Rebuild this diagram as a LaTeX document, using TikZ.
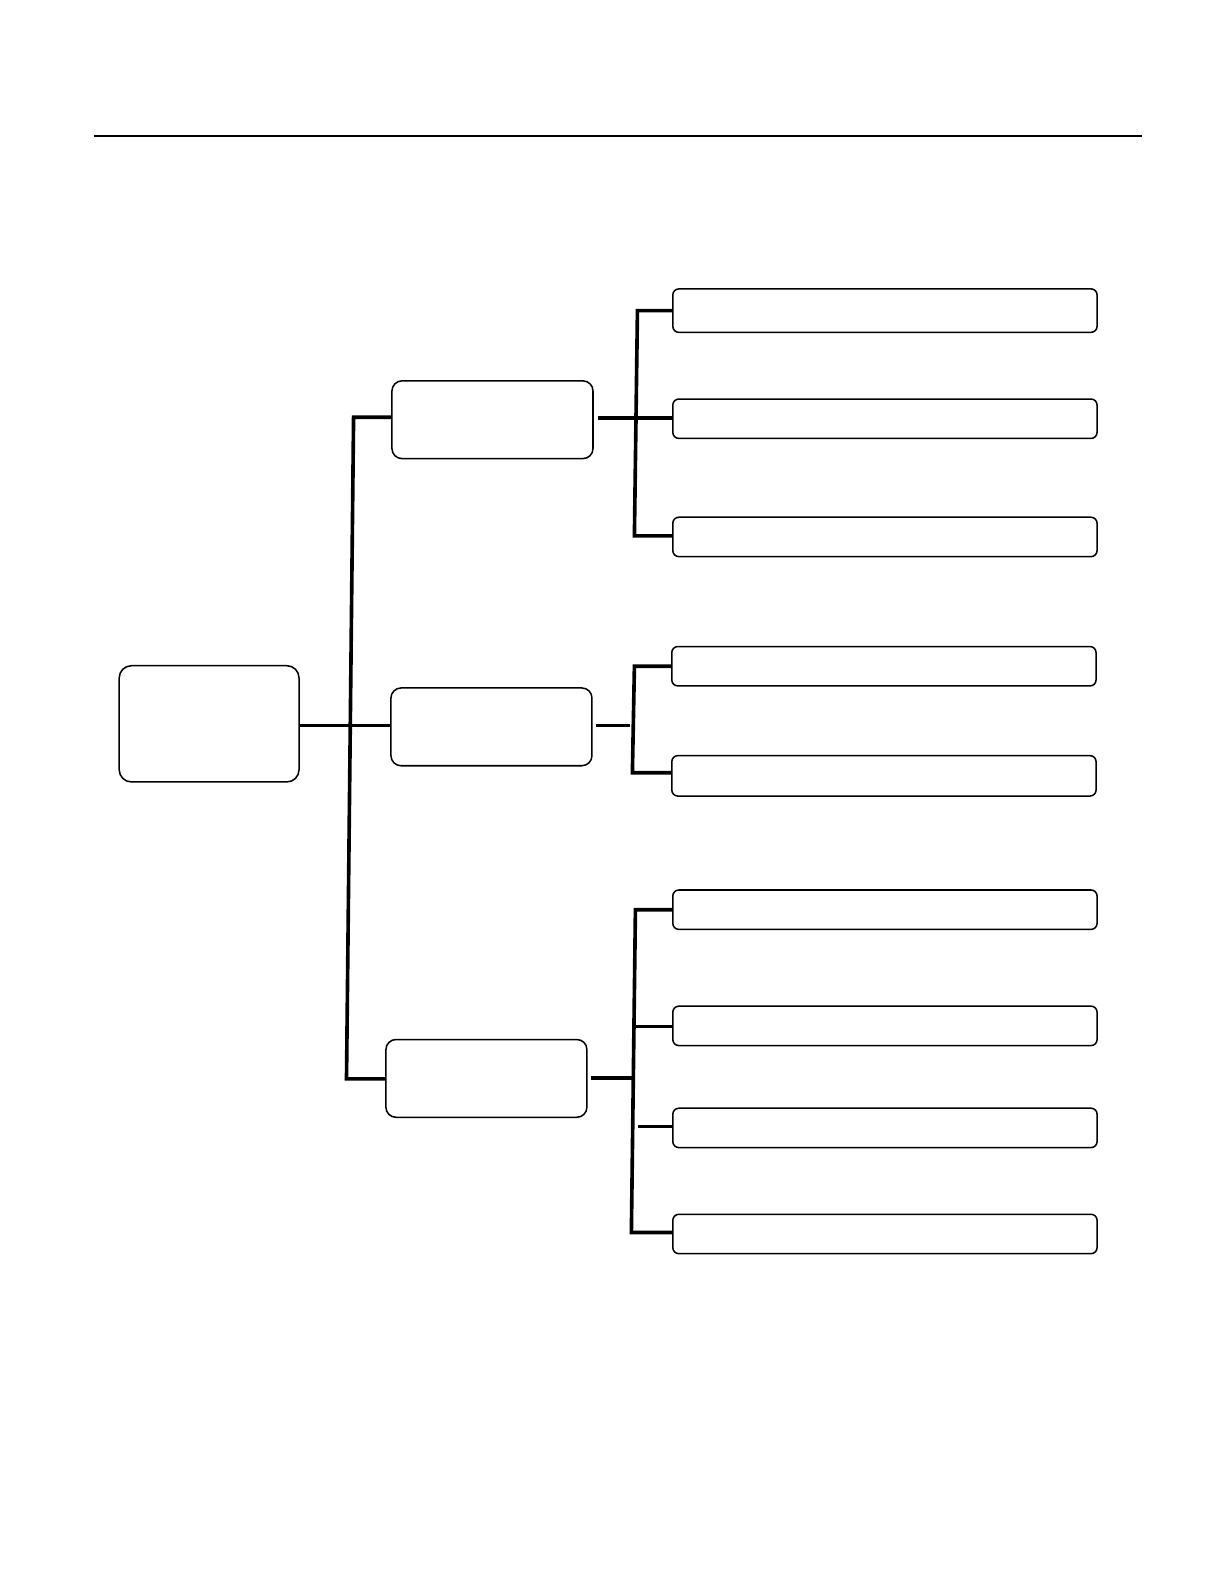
\documentclass[tikz,border=0pt]{standalone}
\begin{document}
\begin{tikzpicture}[x=0.5pt,y=-0.5pt,
  box/.style={draw=black,line width=0.75pt,fill=white,inner sep=0pt},
  rootbox/.style={box,rounded corners=6pt,minimum width=89pt,minimum height=57.5pt},
  midbox/.style={box,rounded corners=5pt,minimum width=99.5pt,minimum height=38.5pt},
  leafbox/.style={box,rounded corners=3pt,minimum width=210pt,minimum height=19.5pt},
  conn/.style={line width=1.8pt,line cap=butt,line join=miter}]
\useasboundingbox (0,0) rectangle (1212,1568);
\fill[white] (0,0) rectangle (1212,1568);
% header rule
\coordinate (hl) at (93,135);
\coordinate (hr) at (1130,135);
\draw[line width=1pt] (hl) -- (hr);
% nodes
\node[rootbox] (root) at (207,716.5) {};
\node[midbox] (m1) at (487.5,415.5) {};
\node[midbox] (m2) at (486.5,719.5) {};
\node[midbox] (m3) at (481.5,1067.5) {};
\node[leafbox,minimum height=21.5pt] (l11) at (876,307.5) {};
\node[leafbox] (l12) at (876,414.5) {};
\node[leafbox] (l13) at (876,531.5) {};
\node[leafbox] (l21) at (875,659.5) {};
\node[leafbox,minimum height=20pt] (l22) at (875,768) {};
\node[leafbox] (l31) at (876,900.5) {};
\node[leafbox] (l32) at (876,1015.5) {};
\node[leafbox] (l33) at (876,1116.5) {};
\node[leafbox] (l34) at (876,1221.5) {};
% trunk
\coordinate (t1) at (350,413);
\coordinate (t3) at (343,1068);
\draw[conn] (root.east |- 0,718) -- (m2.west |- 0,718);
\draw[conn] (m1.west |- t1) -- (t1) -- (t3) -- (m3.west |- t3);
% group 1
\coordinate (g1t) at (631,307.5);
\coordinate (g1b) at (628,530.5);
\draw[conn] (l11.west |- g1t) -- (g1t) -- (g1b) -- (l13.west |- g1b);
\draw[conn] ([xshift=2pt]m1.east |- 0,414) -- (l12.west |- 0,414);
% group 2
\coordinate (g2t) at (628,659.5);
\coordinate (g2b) at (626,765);
\coordinate (g2h) at (624,718);
\draw[conn] (l21.west) -- (g2t) -- (g2b) -- (l22.west |- g2b);
\draw[conn] ([xshift=1.5pt]m2.east |- g2h) -- (g2h);
% group 3
\coordinate (g3t) at (629,900.5);
\coordinate (g3b) at (625,1220);
\coordinate (g3h) at (627,1067);
\coordinate (g3s2) at (628,1016);
\coordinate (g3s3) at (632,1115);
\draw[conn] (l31.west) -- (g3t) -- (g3b) -- (l34.west |- g3b);
\draw[conn] ([xshift=1.5pt]m3.east |- g3h) -- (g3h);
\draw[conn] (g3s2) -- (l32.west |- g3s2);
\draw[conn] (g3s3) -- (l33.west |- g3s3);
\end{tikzpicture}
\end{document}
